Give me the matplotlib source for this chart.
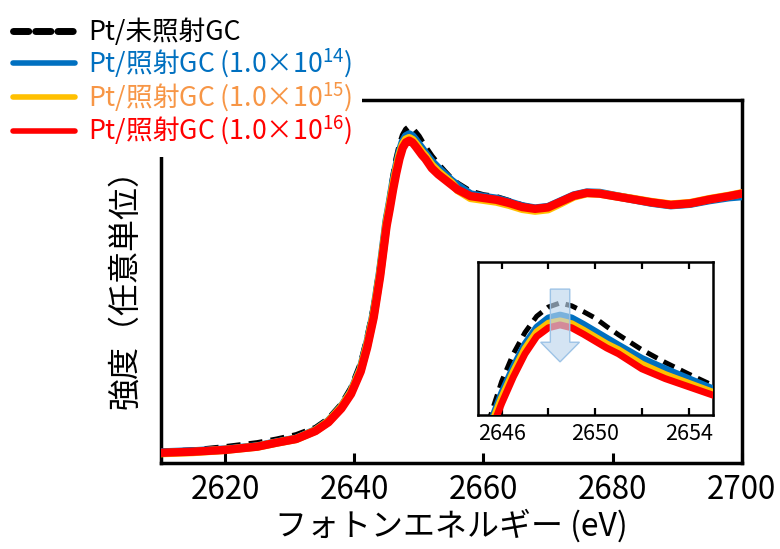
import matplotlib
matplotlib.use('Agg')
import matplotlib.pyplot as plt
from matplotlib.lines import Line2D

plt.rcParams['font.family'] = ['Noto Sans CJK JP', 'DejaVu Sans']
plt.rcParams['mathtext.fontset'] = 'custom'
plt.rcParams['mathtext.rm'] = 'Noto Sans CJK JP'
plt.rcParams['mathtext.it'] = 'Noto Sans CJK JP'
plt.rcParams['mathtext.bf'] = 'Noto Sans CJK JP'

# photon energy (eV)
energy = [2610, 2615, 2620, 2625, 2628, 2631, 2634, 2636, 2638, 2639.5,
          2641, 2642, 2643, 2644, 2645, 2645.5, 2646, 2646.5, 2647, 2647.5,
          2648, 2648.5, 2649, 2649.5, 2650, 2650.5, 2651, 2652, 2653, 2654,
          2655, 2656, 2658, 2660, 2662, 2664, 2666, 2668, 2670, 2672,
          2674, 2676, 2678, 2680, 2683, 2686, 2689, 2692, 2695, 2698, 2700]

# intensity (arb. units)
pt_unirradiated = [0.031, 0.035, 0.044, 0.055, 0.065, 0.077, 0.097, 0.122, 0.162, 0.207,
                   0.275, 0.345, 0.430, 0.545, 0.680, 0.728, 0.790, 0.838, 0.875, 0.903,
                   0.919, 0.926, 0.921, 0.911, 0.900, 0.885, 0.871, 0.845, 0.823, 0.803,
                   0.784, 0.770, 0.748, 0.738, 0.733, 0.722, 0.710, 0.702, 0.706, 0.722,
                   0.738, 0.746, 0.745, 0.738, 0.728, 0.718, 0.710, 0.714, 0.724, 0.732, 0.736]
pt_1e14 = [0.029, 0.032, 0.037, 0.046, 0.057, 0.067, 0.090, 0.115, 0.154, 0.196,
           0.260, 0.328, 0.412, 0.527, 0.667, 0.716, 0.770, 0.815, 0.855, 0.884,
           0.900, 0.905, 0.900, 0.889, 0.877, 0.865, 0.853, 0.830, 0.812, 0.795,
           0.778, 0.764, 0.740, 0.733, 0.728, 0.718, 0.707, 0.701, 0.705, 0.721,
           0.737, 0.745, 0.744, 0.737, 0.727, 0.717, 0.710, 0.714, 0.724, 0.732, 0.735]
pt_1e15 = [0.027, 0.030, 0.036, 0.045, 0.056, 0.066, 0.089, 0.114, 0.153, 0.194,
           0.257, 0.324, 0.407, 0.521, 0.660, 0.710, 0.762, 0.807, 0.847, 0.876,
           0.891, 0.895, 0.890, 0.879, 0.867, 0.855, 0.845, 0.820, 0.802, 0.787,
           0.772, 0.752, 0.730, 0.725, 0.720, 0.711, 0.700, 0.695, 0.699, 0.716,
           0.734, 0.743, 0.742, 0.736, 0.728, 0.719, 0.712, 0.716, 0.727, 0.736, 0.743]
pt_1e16 = [0.028, 0.031, 0.036, 0.045, 0.056, 0.066, 0.088, 0.112, 0.150, 0.190,
           0.252, 0.318, 0.400, 0.513, 0.652, 0.700, 0.752, 0.798, 0.838, 0.868,
           0.883, 0.888, 0.883, 0.872, 0.860, 0.848, 0.838, 0.812, 0.795, 0.781,
           0.767, 0.753, 0.735, 0.730, 0.725, 0.716, 0.705, 0.700, 0.704, 0.720,
           0.736, 0.744, 0.742, 0.736, 0.727, 0.718, 0.711, 0.715, 0.726, 0.735, 0.742]

labels = ['Pt/未照射GC',
          'Pt/照射GC (1.0×10$^{14}$)',
          'Pt/照射GC (1.0×10$^{15}$)',
          'Pt/照射GC (1.0×10$^{16}$)']
line_colors = ['black', '#0070C0', '#FFC000', '#FF0000']
text_colors = ['black', '#0070C0', '#F79646', '#FF0000']

main_ticks = [2620, 2640, 2660, 2680, 2700]
inset_ticks = [2646, 2650, 2654]
inset_minor = [2648, 2652]

series = [pt_unirradiated, pt_1e14, pt_1e15, pt_1e16]


def draw_curves(axes, thick, dash_lw):
    for i, (values, color) in enumerate(zip(series, line_colors)):
        if i == 0:
            axes.plot(energy, values, color=color, linewidth=dash_lw,
                      linestyle=(0, (2.4, 1.4)), zorder=2)
        else:
            axes.plot(energy, values, color=color, linewidth=thick,
                      solid_capstyle='round', solid_joinstyle='round', zorder=2 + i)


fig = plt.figure(figsize=(7.8, 5.49), dpi=100)
ax = fig.add_axes([0.2058, 0.1567, 0.951 - 0.2058, 0.8179 - 0.1567])
draw_curves(ax, thick=6.0, dash_lw=4.2)
ax.set_xlim(2610, 2700)
ax.set_ylim(0, 1)
ax.set_xticks(main_ticks)
ax.set_yticks([])
ax.tick_params(axis='x', direction='in', length=7, width=2.2, labelsize=22.5, pad=8)
for s in ax.spines.values():
    s.set_linewidth(2.5)
ax.set_xlabel('フォトンエネルギー (eV)', fontsize=23, labelpad=2)
ax.set_ylabel('強度（任意単位）', fontsize=23, labelpad=14)

# inset zoom on the white line
ins = fig.add_axes([0.6132, 0.2441, 0.301, 0.2787])
draw_curves(ins, thick=5.0, dash_lw=3.6)
ins.set_xlim(2645, 2655.05)
ins.set_ylim(0.732, 0.997)
ins.set_xticks(inset_ticks)
ins.set_xticks(inset_minor, minor=True)
ins.set_yticks([])
ins.tick_params(axis='x', which='both', direction='in', top=True, length=5,
                width=1.6, labelsize=15.5, pad=6)
for s in ins.spines.values():
    s.set_linewidth(1.8)
ins.arrow(2648.5, 0.950, 0, -0.126, width=0.83, head_width=1.66, head_length=0.034,
          length_includes_head=True, facecolor=(0.74, 0.84, 0.93, 0.65),
          edgecolor='#9DC3E6', linewidth=1.0, zorder=10)

legend_items = [Line2D([0], [0], color=line_colors[0], linewidth=5, linestyle=(0, (2.2, 1.0)),
                       dash_capstyle='round')]
for c in line_colors[1:]:
    legend_items.append(Line2D([0], [0], color=c, linewidth=4, solid_capstyle='round'))
leg = fig.legend(legend_items, labels, loc='upper left', bbox_to_anchor=(-0.012, 1.008),
                 bbox_transform=fig.transFigure, fontsize=19.2, frameon=True,
                 facecolor='white', edgecolor='none', framealpha=1, fancybox=False,
                 handlelength=2.3, handletextpad=0.5, labelspacing=0.03, borderpad=0.35)
for t, c in zip(leg.get_texts(), text_colors):
    t.set_color(c)
leg.set_zorder(20)

fig.savefig('out.png', dpi=100)
